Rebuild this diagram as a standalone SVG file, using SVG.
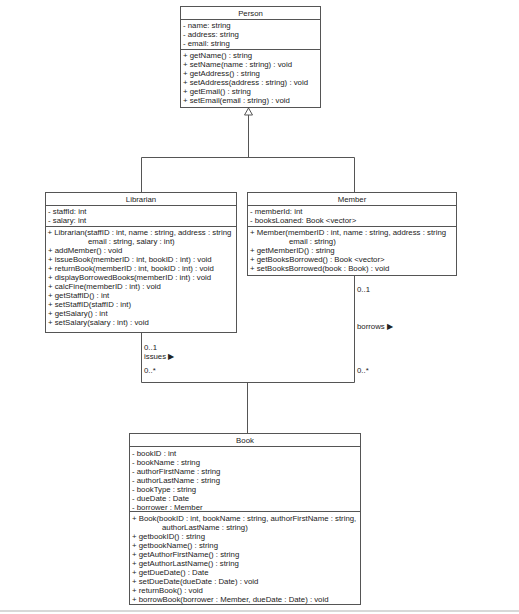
<svg xmlns="http://www.w3.org/2000/svg" width="519" height="614" viewBox="0 0 519 614">
<style>
.box{fill:#fff;stroke:#555;stroke-width:1}
.sep{stroke:#555;stroke-width:1}
.t{font-family:"Liberation Sans",Arial,sans-serif;font-size:7.8px;fill:#222;font-weight:normal}
.c{text-anchor:middle}
.ln{fill:none;stroke:#555;stroke-width:1}
</style>
<rect width="519" height="614" fill="#fff"/>
<g id="person">
<rect class="box" x="180.5" y="6.5" width="140" height="101"/>
<line class="sep" x1="180.5" y1="19.5" x2="320.5" y2="19.5"/>
<line class="sep" x1="180.5" y1="49.5" x2="320.5" y2="49.5"/>
<text class="t c" x="250.5" y="16">Person</text>
<text class="t" x="183" y="28">- name: string</text>
<text class="t" x="183" y="37">- address: string</text>
<text class="t" x="183" y="46">- email: string</text>
<text class="t" x="183" y="58">+ getName() : string</text>
<text class="t" x="183" y="67">+ setName(name : string) : void</text>
<text class="t" x="183" y="76">+ getAddress() : string</text>
<text class="t" x="183" y="85">+ setAddress(address : string) : void</text>
<text class="t" x="183" y="94">+ getEmail() : string</text>
<text class="t" x="183" y="103">+ setEmail(email : string) : void</text>
</g>
<g id="librarian">
<rect class="box" x="45.5" y="192.5" width="191" height="140"/>
<line class="sep" x1="45.5" y1="205.5" x2="236.5" y2="205.5"/>
<line class="sep" x1="45.5" y1="226.5" x2="236.5" y2="226.5"/>
<text class="t c" x="141" y="202">Librarian</text>
<text class="t" x="48" y="214">- staffId: int</text>
<text class="t" x="48" y="223">- salary: int</text>
<text class="t" x="47.5" y="235">+ Librarian(staffID : int, name : string, address : string</text>
<text class="t" x="88" y="244">email : string, salary : int)</text>
<text class="t" x="48" y="253">+ addMember() : void</text>
<text class="t" x="48" y="262">+ issueBook(memberID : int, bookID : int) : void</text>
<text class="t" x="48" y="271">+ returnBook(memberID : int, bookID : int) : void</text>
<text class="t" x="48" y="280">+ displayBorrowedBooks(memberID : int) : void</text>
<text class="t" x="48" y="289">+ calcFine(memberID : int) : void</text>
<text class="t" x="48" y="298">+ getStaffID() : int</text>
<text class="t" x="48" y="307">+ setStaffID(staffID : int)</text>
<text class="t" x="48" y="316">+ getSalary() : int</text>
<text class="t" x="48" y="325">+ setSalary(salary : int) : void</text>
</g>
<g id="member">
<rect class="box" x="247.5" y="192.5" width="209" height="83"/>
<line class="sep" x1="247.5" y1="205.5" x2="456.5" y2="205.5"/>
<line class="sep" x1="247.5" y1="226.5" x2="456.5" y2="226.5"/>
<text class="t c" x="352" y="202">Member</text>
<text class="t" x="250" y="214">- memberId: int</text>
<text class="t" x="250" y="223">- booksLoaned: Book &lt;vector&gt;</text>
<text class="t" x="250" y="235">+ Member(memberID : int, name : string, address : string</text>
<text class="t" x="289" y="244">email : string)</text>
<text class="t" x="250" y="253">+ getMemberID() : string</text>
<text class="t" x="250" y="262">+ getBooksBorrowed() : Book &lt;vector&gt;</text>
<text class="t" x="250" y="271">+ setBooksBorrowed(book : Book) : void</text>
</g>
<g id="book">
<rect class="box" x="129.5" y="433.5" width="231" height="171"/>
<line class="sep" x1="129.5" y1="446.5" x2="360.5" y2="446.5"/>
<line class="sep" x1="129.5" y1="511.5" x2="360.5" y2="511.5"/>
<text class="t c" x="245" y="443">Book</text>
<text class="t" x="132" y="456">- bookID : int</text>
<text class="t" x="132" y="465">- bookName : string</text>
<text class="t" x="132" y="474">- authorFirstName : string</text>
<text class="t" x="132" y="483">- authorLastName : string</text>
<text class="t" x="132" y="492">- bookType : string</text>
<text class="t" x="132" y="501">- dueDate : Date</text>
<text class="t" x="132" y="510">- borrower : Member</text>
<text class="t" x="132" y="521">+ Book(bookID : int, bookName : string, authorFirstName : string,</text>
<text class="t" x="162" y="530">authorLastName : string)</text>
<text class="t" x="132" y="539">+ getbookID() : string</text>
<text class="t" x="132" y="548">+ getbookName() : string</text>
<text class="t" x="132" y="557">+ getAuthorFirstName() : string</text>
<text class="t" x="132" y="566">+ getAuthorLastName() : string</text>
<text class="t" x="132" y="575">+ getDueDate() : Date</text>
<text class="t" x="132" y="584">+ setDueDate(dueDate : Date) : void</text>
<text class="t" x="132" y="593">+ returnBook() : void</text>
<text class="t" x="132" y="602">+ borrowBook(borrower : Member, dueDate : Date) : void</text>
</g>
<g id="connectors">
<polygon points="248.5,108 244.5,115 252.5,115" fill="#fff" stroke="#555" stroke-width="1"/>
<path class="ln" d="M248.5,115 V157.5 M141.5,157.5 H354.5 M141.5,157.5 V192 M354.5,157.5 V192"/>
<path class="ln" d="M141.5,333 V382.5 H354.5 V276 M247.5,382.5 V433"/>
<text class="t" x="144" y="350">0..1</text>
<text class="t" x="144" y="359">issues ▶</text>
<text class="t" x="144" y="373">0..*</text>
<text class="t" x="357" y="292">0..1</text>
<text class="t" x="357" y="329">borrows ▶</text>
<text class="t" x="357" y="373">0..*</text>
</g>
<rect x="0" y="610" width="519" height="2" fill="#d8d8d8"/>
</svg>
